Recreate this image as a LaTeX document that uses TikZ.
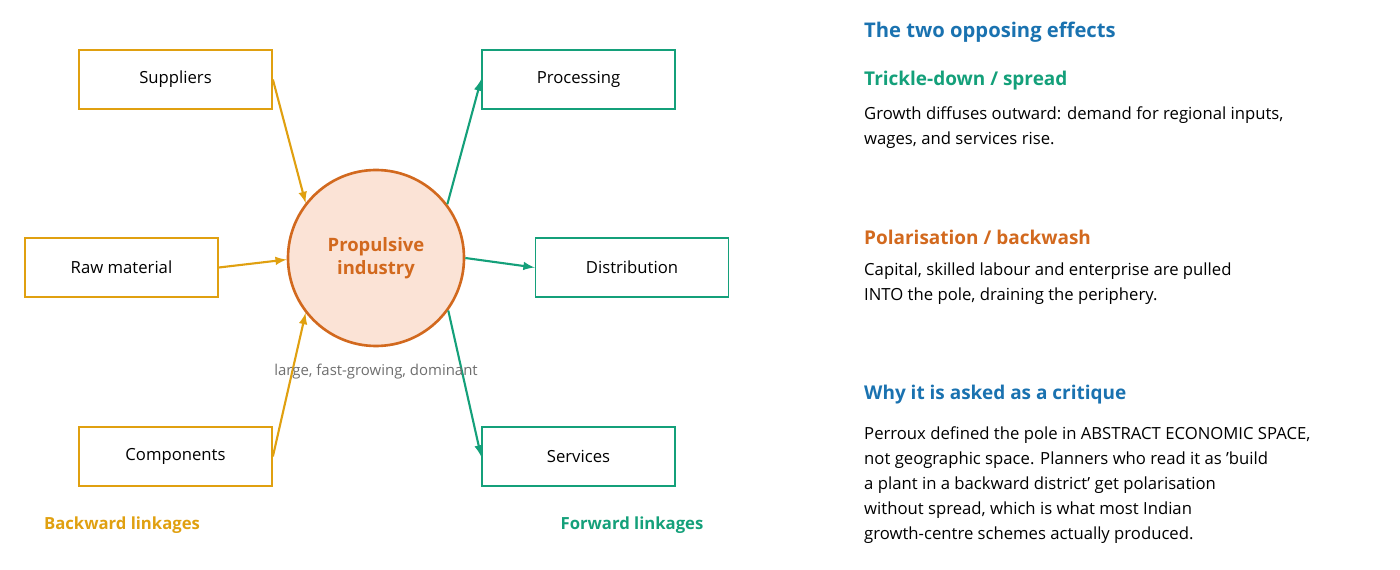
\documentclass[tikz,border=0pt]{standalone}
\usepackage{fontspec}
\setmainfont{Open Sans}
\definecolor{backc}{HTML}{E0A010}
\definecolor{forc}{HTML}{14A07A}
\definecolor{polec}{HTML}{D2691E}
\definecolor{polefill}{HTML}{FBE3D6}
\definecolor{headc}{HTML}{1A72B0}
\definecolor{notec}{HTML}{6E6E6E}
\tikzset{
  back/.style={draw=backc, line width=1pt, minimum width=193*0.02cm, minimum height=59*0.02cm, font=\fontsize{9.5}{11}\selectfont},
  fwd/.style={draw=forc, line width=1pt, minimum width=193*0.02cm, minimum height=59*0.02cm, font=\fontsize{9.5}{11}\selectfont},
  backarr/.style={draw=backc, line width=1.2pt, -latex},
  fwdarr/.style={draw=forc, line width=1.2pt, -latex},
  txt/.style={anchor=north west, align=left, font=\fontsize{9.5}{14.2}\selectfont},
  head/.style={anchor=west, font=\bfseries\fontsize{10.8}{13}\selectfont}
}
\begin{document}
\begin{tikzpicture}[x=0.02cm, y=-0.02cm]
  \useasboundingbox (0,0) rectangle (1400,570);
  % pole
  \node[circle, draw=polec, fill=polefill, line width=1.5pt, minimum size=176*0.02cm,
        align=center, text=polec, font=\bfseries\fontsize{10.5}{13}\selectfont] (pole) at (376,258) {Propulsive\\industry};
  % backward linkages
  \node[back] (sup) at (175.5,79.5) {Suppliers};
  \node[back] (raw) at (121.5,267.5) {Raw material};
  \node[back] (comp) at (175.5,456.5) {Components};
  % forward linkages
  \node[fwd] (proc) at (578.5,79.5) {Processing};
  \node[fwd] (dist) at (632,267.5) {Distribution};
  \node[fwd] (serv) at (578.5,456.5) {Services};
  \draw[backarr] (sup.east) -- (pole.142);
  \draw[backarr] (raw.east) -- (pole.181);
  \draw[backarr] (comp.east) -- (pole.218);
  \draw[fwdarr] (pole.37) -- (proc.west);
  \draw[fwdarr] (pole.0) -- (dist.west);
  \draw[fwdarr] (pole.-36) -- (serv.west);
  \node[text=notec, font=\fontsize{8.5}{10}\selectfont] (note) at (376,372) {large, fast-growing, dominant};
  \node[text=backc, font=\bfseries\fontsize{9.5}{11}\selectfont] (bl) at (122,525) {Backward linkages};
  \node[text=forc, font=\bfseries\fontsize{9.5}{11}\selectfont] (fl) at (632,525) {Forward linkages};
  % effects
  \node[head, text=headc, font=\bfseries\fontsize{11.5}{13}\selectfont] (title) at (858,32) {The two opposing effects};
  \node[head, text=forc] (spread) at (858,81) {Trickle-down / spread};
  \node[txt] (spreadtxt) at (858,101) {Growth diffuses outward: demand for regional inputs,\\wages, and services rise.};
  \node[head, text=polec] (wash) at (858,237) {Polarisation / backwash};
  \node[txt] (washtxt) at (858,257) {Capital, skilled labour and enterprise are pulled\\INTO the pole, draining the periphery.};
  \node[head, text=headc] (crit) at (858,395) {Why it is asked as a critique};
  \node[txt] (crittxt) at (858,421) {Perroux defined the pole in ABSTRACT ECONOMIC SPACE,\\not geographic space. Planners who read it as 'build\\a plant in a backward district' get polarisation\\without spread, which is what most Indian\\growth-centre schemes actually produced.};
\end{tikzpicture}
\end{document}
